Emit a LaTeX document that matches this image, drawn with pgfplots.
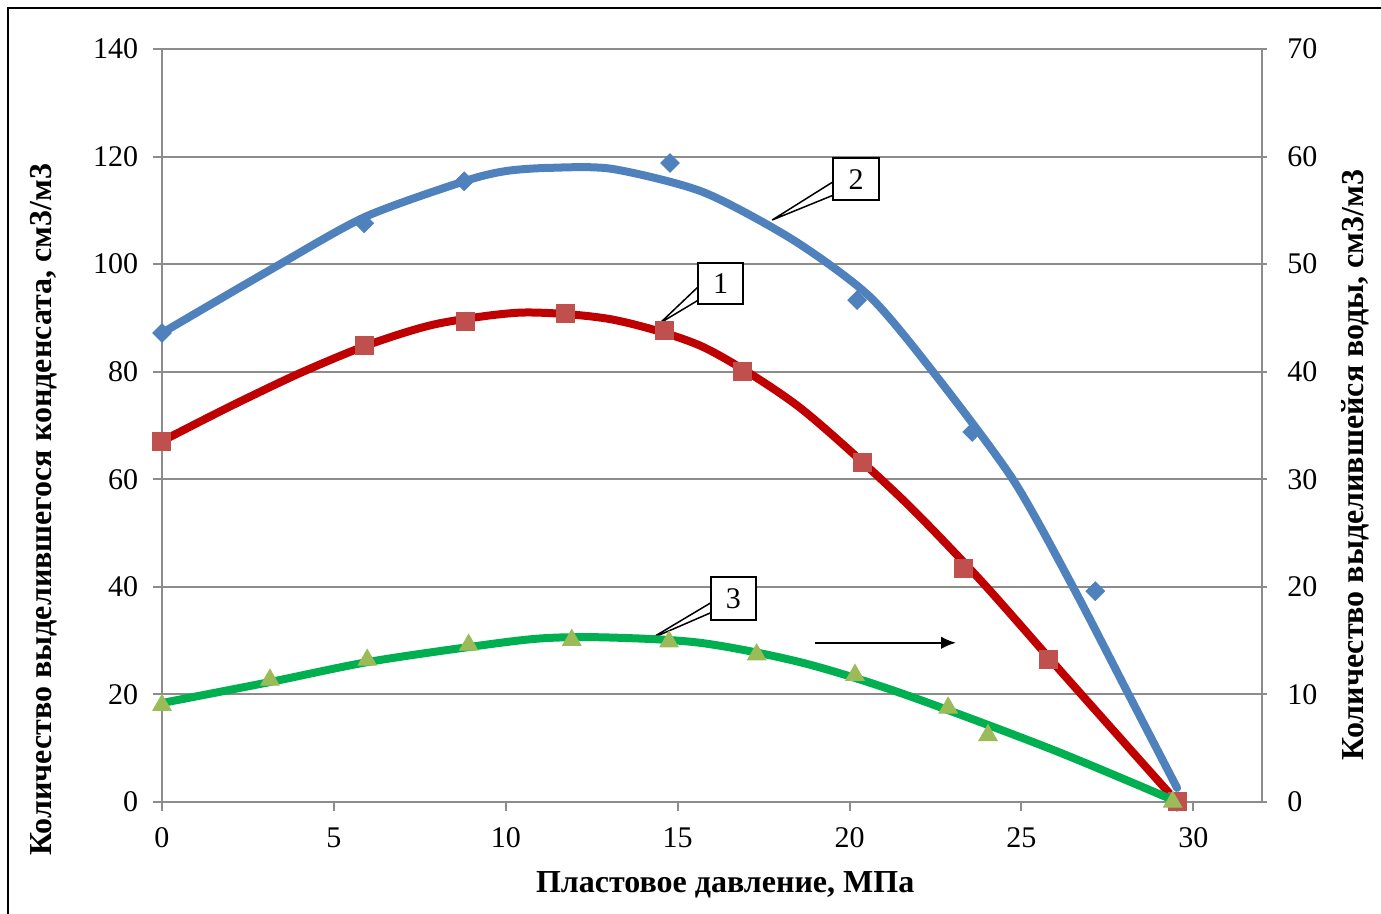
\documentclass[border=0pt]{standalone}
\usepackage{pgfplots}
\pgfplotsset{compat=1.18}
\usetikzlibrary{arrows.meta}
\usepackage{fontspec}
\setmainfont{Liberation Serif}
\definecolor{blueL}{HTML}{4F81BD}
\definecolor{redL}{HTML}{C00000}
\definecolor{redM}{HTML}{C0504D}
\definecolor{greenL}{HTML}{00B050}
\definecolor{greenM}{HTML}{9BBB59}
\definecolor{gridc}{HTML}{8C8C8C}
\begin{document}
\begin{tikzpicture}
\pgfplotsset{
  every axis/.append style={
    scale only axis, width=440pt, height=301.2pt,
    xmin=0, xmax=32, clip=false,
    /pgf/number format/assume math mode=true,
    tick label style={font=\fontsize{12}{14}\selectfont},
    axis line style={gridc, line width=0.8pt},
    tick style={gridc, line width=0.8pt},
    major tick length=3.6pt,
    label style={font=\fontsize{12.8}{15}\selectfont\bfseries},
  }
}
\begin{axis}[
  axis x line*=bottom, axis y line*=left,
  ymin=0, ymax=140, ytick={0,20,...,140}, xtick={0,5,...,30},
  ymajorgrids, grid style={gridc, line width=0.8pt},
  tick align=outside,
  yticklabel style={xshift=-2.4pt},
  xticklabel style={yshift=-3.2pt},
  xlabel={Пластовое давление, МПа},
  ylabel={Количество выделившегося конденсата, см3/м3},
  xlabel style={at={(axis description cs:0.512,-0.11)}, anchor=center},
  ylabel style={at={(axis description cs:-0.108,0.388)}, anchor=center},
]
% markers series 2
\addplot[only marks, mark=square*, mark options={rotate=45}, mark size=2.6pt, color=blueL] coordinates {
(0,87.2) (5.88,107.6) (8.79,115.4) (14.78,118.8) (20.22,93.3) (23.57,68.8) (27.15,39.2) (29.53,0)};
% markers series 1
\addplot[only marks, mark=square*, mark size=3.6pt, color=redM] coordinates {
(0,67.1) (5.88,84.8) (8.82,89.4) (11.73,90.9) (14.63,87.6) (16.88,80.1) (20.37,63.2) (23.33,43.5) (25.8,26.4) (29.53,0)};
% curve 2
\addplot[no marks, smooth, tension=0.45, color=blueL, line width=3.2pt, line cap=round] coordinates {
(0,87.2) (3.14,98.9) (5.88,108.7) (8.79,115.4) (10,117.3) (11.28,117.9) (13.1,117.7) (15.74,113.4) (18.36,104.5) (20.6,93.9) (22.5,79.4) (24.76,59.9) (26.5,40.0) (28.16,19.5) (29.53,2.6)};
% curve 1
\addplot[no marks, smooth, tension=0.45, color=redL, line width=3.2pt] coordinates {
(0,67.1) (2,73.6) (4,79.7) (6,85.0) (8,88.9) (10.5,91.0) (13.1,89.7) (15.74,84.6) (18.5,73.6) (21.47,56.7) (23.8,41.3) (26.3,23.2) (29.53,0)};
% callouts
\draw[black, line width=0.6pt, fill=white] (axis cs:19.52,115.3) -- (axis cs:17.75,108.2) -- (axis cs:19.52,112.8);
\draw[black, line width=0.8pt, fill=white] (axis cs:19.52,119.7) rectangle (axis cs:20.86,111.9);
\node[font=\fontsize{12}{14}\selectfont] at (axis cs:20.19,115.8) {2};
\draw[black, line width=0.6pt, fill=white] (axis cs:15.6,95.8) -- (axis cs:14.49,89.05) -- (axis cs:15.6,93.3);
\draw[black, line width=0.8pt, fill=white] (axis cs:15.6,100.2) rectangle (axis cs:16.9,92.6);
\node[font=\fontsize{12}{14}\selectfont] at (axis cs:16.25,96.4) {1};
\draw[black, line width=0.6pt, fill=white] (axis cs:15.97,37.05) -- (axis cs:14.2,30.3) -- (axis cs:15.97,35.2);
\draw[black, line width=0.8pt, fill=white] (axis cs:15.97,41.8) rectangle (axis cs:17.28,33.8);
\node[font=\fontsize{12}{14}\selectfont] at (axis cs:16.62,37.8) {3};
\draw[-{Latex[length=6pt,width=5pt]}, black, line width=0.8pt] (axis cs:19.0,29.6) -- (axis cs:23.1,29.6);
\end{axis}
\begin{axis}[
  axis y line*=right, axis x line=none,
  ymin=0, ymax=70, ytick={0,10,...,70},
  tick align=center,
  yticklabel style={xshift=4.8pt},
  ylabel={Количество выделившейся воды, см3/м3},
  ylabel style={at={(axis description cs:1.0845,0.4475)}, anchor=center},
]
\addplot[only marks, mark=triangle*, mark size=4.2pt, color=greenM] coordinates {
(0,9.0) (3.14,11.35) (5.97,13.2) (8.92,14.6) (11.92,15.05) (14.75,14.9) (17.3,13.7) (20.16,11.8) (22.87,8.75) (24.03,6.2) (29.4,0)};
\addplot[no marks, smooth, tension=0.5, color=greenL, line width=3.2pt] coordinates {
(0,9.2) (3.14,11.15) (5.97,13.0) (8.92,14.4) (11.0,15.2) (12.9,15.3) (15.65,14.8) (18.56,13.0) (21.47,10.15) (25.84,4.95) (29.4,0.2)};
\end{axis}
\pgfresetboundingbox
\path[use as bounding box] (-64.8pt,-44.8pt) rectangle (487.6pt,320.8pt);
\draw[black, line width=1pt] (-61.6pt,-46pt) -- (-61.6pt,317.6pt) -- (489pt,317.6pt);
\end{tikzpicture}
\end{document}
